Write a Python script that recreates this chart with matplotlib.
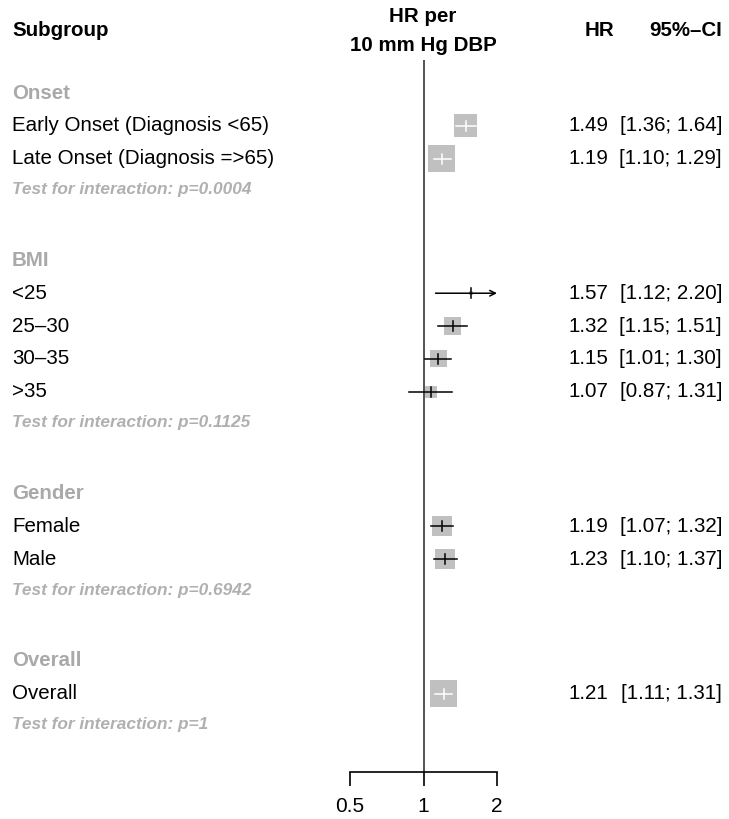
import matplotlib
matplotlib.use("Agg")
import matplotlib.pyplot as plt
from matplotlib import transforms

plt.rcParams['font.family'] = ['Liberation Sans', 'DejaVu Sans']

# ---- DATA ----
groups = ["Onset", "BMI", "Gender", "Overall"]
labels = [
    ["Early Onset (Diagnosis <65)", "Late Onset (Diagnosis =>65)"],
    ["<25", "25\u201330", "30\u201335", ">35"],
    ["Female", "Male"],
    ["Overall"],
]
hr = [[1.49, 1.19], [1.57, 1.32, 1.15, 1.07], [1.19, 1.23], [1.21]]
lower = [[1.36, 1.10], [1.12, 1.15, 1.01, 0.87], [1.07, 1.10], [1.11]]
upper = [[1.64, 1.29], [2.20, 1.51, 1.30, 1.31], [1.32, 1.37], [1.31]]
weight = [[0.72, 1.0], [0.02, 0.40, 0.40, 0.20], [0.55, 0.55], [1.0]]
p_interaction = ["0.0004", "0.1125", "0.6942", "1"]

# ---- LAYOUT ----
W, H = 729, 819
GRAY = "#a9a9a9"
BOX = "#c0c0c0"
XMIN, XMAX = 0.5, 2.0
AX_L, AX_R = 350, 497        # pixel columns of 0.5 and 2
AX_TOP, AX_BOT = 60, 772
ROW = 32.8
FS = 14.8

fig = plt.figure(figsize=(W / 100, H / 100), dpi=100)
ax = fig.add_axes([AX_L / W, 1 - AX_BOT / H, (AX_R - AX_L) / W, (AX_BOT - AX_TOP) / H])
ax.set_xscale("log", base=2)
ax.set_xlim(XMIN, XMAX)
ax.set_ylim(AX_BOT, AX_TOP)
for s in ["top", "right", "left"]:
    ax.spines[s].set_visible(False)
ax.spines["bottom"].set_linewidth(1.2)
ax.set_yticks([])
ax.set_xticks([0.5, 1, 2])
ax.set_xticklabels(["0.5", "1", "2"])
ax.minorticks_off()
ax.tick_params(axis="x", length=10, width=1.2, pad=8, labelsize=15)

# text positioned by figure x (pixels) and row y
tr = transforms.blended_transform_factory(fig.transFigure, ax.transData)


def put(xpx, y, s, **kw):
    ax.text(xpx / W, y, s, transform=tr, va="center", clip_on=False, **kw)


# headers
put(12, 30, "Subgroup", fontsize=FS, fontweight="bold")
put(423, 16, "HR per", fontsize=FS, fontweight="bold", ha="center")
put(423, 45, "10 mm Hg DBP", fontsize=FS, fontweight="bold", ha="center")
put(600, 30, "HR", fontsize=FS, fontweight="bold", ha="center")
put(722, 30, "95%\u2013CI", fontsize=FS, fontweight="bold", ha="right")

ax.plot([1, 1], [AX_TOP, AX_BOT], color="#444444", lw=1.3, zorder=1)

y = 93
for g, name in enumerate(groups):
    put(12, y, name, fontsize=FS, fontweight="bold", color=GRAY)
    y += ROW
    for i, lab in enumerate(labels[g]):
        est, lo, hi, w = hr[g][i], lower[g][i], upper[g][i], weight[g][i]
        side = 27 * w ** 0.5
        ax.scatter([est], [y], marker="s", s=(side * 0.72) ** 2, color=BOX,
                   edgecolor="none", zorder=2)
        half = 2 ** (side / 2 / 73.5)
        inside = (est / lo) < half and (hi / est) < half
        col = "white" if inside else "black"
        if hi > XMAX:
            ax.annotate("", xy=(XMAX, y), xytext=(lo, y),
                        arrowprops=dict(arrowstyle="->", color=col, lw=1.1,
                                        shrinkA=0, shrinkB=0), zorder=3)
        else:
            ax.plot([max(lo, XMIN), hi], [y, y], color=col, lw=1.1, zorder=3)
        ax.plot([est, est], [y - 5, y + 5], color=col, lw=1.1, zorder=3)
        put(12, y, lab, fontsize=FS)
        put(608, y, f"{est:.2f}", fontsize=FS, ha="right")
        put(722, y, f"[{lo:.2f}; {hi:.2f}]", fontsize=FS, ha="right")
        y += ROW
    y -= 1.5
    put(12, y, f"Test for interaction: p={p_interaction[g]}", fontsize=12.4,
        fontweight="bold", fontstyle="italic", color="#b0b0b0")
    y += 2.15 * ROW

fig.savefig("out.png", dpi=100)
